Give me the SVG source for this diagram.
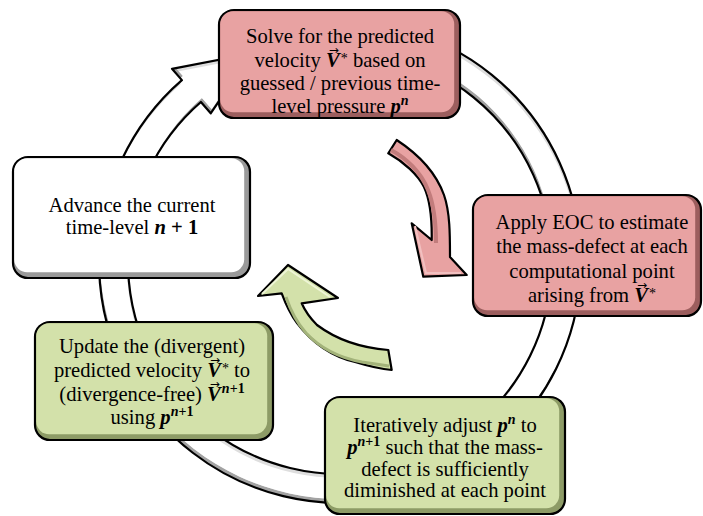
<svg xmlns="http://www.w3.org/2000/svg" xmlns:xlink="http://www.w3.org/1999/xlink" width="703" height="516" viewBox="0 0 703 516">
<style>
.m{font-weight:bold;font-style:italic}
.b{font-weight:bold}
.s{font-size:14px}
.ar{font-size:12px;font-style:normal;font-weight:normal}
.edge{stroke:#000;stroke-width:2.2}
.pinkD{fill:#9c5e5e}.pinkL{fill:#e8a2a2}
.grnD{fill:#8d9b66}.grnL{fill:#d3e1aa}
.whtD{fill:#9a9a9a}.whtL{fill:#ffffff}
</style>
<defs>
<path id="ringp" d="M 402.4 29.2 A 241 241 0 1 1 181.9 80.1 L 172 68.8 L 251.5 53.5 L 210.7 113.3 L 200.9 102 A 212 212 0 1 0 394.9 57.2 Z"/>
<clipPath id="rc"><use xlink:href="#ringp"/></clipPath>
<clipPath id="rc2"><use xlink:href="#ringp" transform="translate(-1,4)"/></clipPath>
</defs>
<rect width="703" height="516" fill="#fff"/>
<g id="connectors">
  <g id="ring">
    <g clip-path="url(#rc)">
      <use xlink:href="#ringp" fill="#a3a3a3"/>
      <use xlink:href="#ringp" transform="translate(1,-4)" fill="#dedede"/>
      <g clip-path="url(#rc2)"><use xlink:href="#ringp" transform="translate(1,-4)" fill="#fff"/></g>
    </g>
    <use xlink:href="#ringp" fill="none" stroke="#000" stroke-width="2.2" stroke-linejoin="round"/>
  </g>
  <g id="pink-arrow">
    <path d="M 388.3 153.3 L 396.7 140 C 415 152, 435 170, 444 195 C 450 212, 450 235, 450 257 L 466.7 275 L 423.3 276.7 L 411.7 223.3 L 431.7 240 C 432 222, 430 200, 424 187 C 418 175, 404 162, 388.3 153.3 Z" fill="#e8a2a2" stroke="#000" stroke-width="2.2" stroke-linejoin="round"/>
    <path d="M 391 150 C 406 158, 421 172, 428 190 C 434 205, 436 225, 436 243" fill="none" stroke="#c27c7c" stroke-width="4"/>
    <path d="M 415 226 L 426 273 L 461 273" fill="none" stroke="#f2c0c0" stroke-width="2"/>
  </g>
  <g id="green-arrow">
    <path d="M 388.3 350 C 363 348, 337 340, 317 325 C 310 318, 305 311, 301.7 303.3 L 338 298 L 288 265 L 258 296 L 281.7 293.3 C 286 305, 291 315, 297 323 C 310 340, 330 356, 355 362 C 368 366, 380 369, 391.7 370 Z" fill="#d3e1aa" stroke="#000" stroke-width="2.2" stroke-linejoin="round"/>
    <path d="M 286 297 C 291 312, 298 324, 306 333 C 320 348, 340 358, 362 362 L 389 366" fill="none" stroke="#a3b37a" stroke-width="3"/>
    <path d="M 262 294 L 288 269 L 330 297" fill="none" stroke="#eef5d6" stroke-width="2"/>
  </g>
</g>
<g id="node-solve">
  <rect x="219" y="10" width="241" height="108" rx="15" class="pinkD edge"/>
  <rect x="220.2" y="11.2" width="234" height="101" rx="13" class="pinkL"/>
  <text font-family="Liberation Serif" font-size="20.6" text-anchor="middle" x="340" y="43">Solve for the predicted</text>
  <text font-family="Liberation Serif" font-size="20.6" text-anchor="middle" x="340" y="66.5">velocity <tspan class="m">V</tspan><tspan class="ar" font-family="DejaVu Sans" dx="-11" dy="-13">→</tspan><tspan class="s" dx="2" dy="9">*</tspan><tspan dy="4"> based on</tspan></text>
  <text font-family="Liberation Serif" font-size="20.6" text-anchor="middle" x="340" y="90">guessed / previous time-</text>
  <text font-family="Liberation Serif" font-size="20.6" text-anchor="middle" x="340" y="113">level pressure <tspan class="m">p</tspan><tspan class="m s" dy="-8">n</tspan></text>
</g>
<g id="node-eoc">
  <rect x="473" y="195" width="228" height="121" rx="15" class="pinkD edge"/>
  <rect x="474.2" y="196.2" width="221" height="114" rx="13" class="pinkL"/>
  <text font-family="Liberation Serif" font-size="20.6" text-anchor="middle" x="592" y="229">Apply EOC to estimate</text>
  <text font-family="Liberation Serif" font-size="20.6" text-anchor="middle" x="592" y="253">the mass-defect at each</text>
  <text font-family="Liberation Serif" font-size="20.6" text-anchor="middle" x="592" y="277.5">computational point</text>
  <text font-family="Liberation Serif" font-size="20.6" text-anchor="middle" x="592" y="302">arising from <tspan class="m">V</tspan><tspan class="ar" font-family="DejaVu Sans" dx="-11" dy="-13">→</tspan><tspan class="s" dx="2" dy="9">*</tspan></text>
</g>
<g id="node-advance">
  <rect x="13" y="157" width="237" height="121" rx="15" class="whtD edge"/>
  <rect x="14.2" y="158.2" width="230" height="114" rx="13" class="whtL"/>
  <text font-family="Liberation Serif" font-size="20.6" text-anchor="middle" x="132" y="212">Advance the current</text>
  <text font-family="Liberation Serif" font-size="20.6" text-anchor="middle" x="132" y="234">time-level <tspan class="m">n</tspan><tspan class="b"> + 1</tspan></text>
</g>
<g id="node-update">
  <rect x="35" y="322" width="238" height="118" rx="15" class="grnD edge"/>
  <rect x="36.2" y="323.2" width="231" height="111" rx="13" class="grnL"/>
  <text font-family="Liberation Serif" font-size="20.6" text-anchor="middle" x="152" y="353">Update the (divergent)</text>
  <text font-family="Liberation Serif" font-size="20.6" text-anchor="middle" x="152" y="377">predicted velocity <tspan class="m">V</tspan><tspan class="ar" font-family="DejaVu Sans" dx="-11" dy="-13">→</tspan><tspan class="s" dx="2" dy="9">*</tspan><tspan dy="4"> to</tspan></text>
  <text font-family="Liberation Serif" font-size="20.6" text-anchor="middle" x="152" y="400.5">(divergence-free) <tspan class="m">V</tspan><tspan class="ar" font-family="DejaVu Sans" dx="-11" dy="-13">→</tspan><tspan class="m s" dx="2" dy="5">n</tspan><tspan class="b s">+1</tspan></text>
  <text font-family="Liberation Serif" font-size="20.6" text-anchor="middle" x="152" y="424">using <tspan class="m">p</tspan><tspan class="m s" dy="-8">n</tspan><tspan class="b s">+1</tspan></text>
</g>
<g id="node-iterate">
  <rect x="325" y="397" width="240" height="117" rx="15" class="grnD edge"/>
  <rect x="326.2" y="398.2" width="233" height="110" rx="13" class="grnL"/>
  <text font-family="Liberation Serif" font-size="20.6" text-anchor="middle" x="445" y="432">Iteratively adjust <tspan class="m">p</tspan><tspan class="m s" dy="-8">n</tspan><tspan dy="8"> to</tspan></text>
  <text font-family="Liberation Serif" font-size="20.6" text-anchor="middle" x="445" y="454"><tspan class="m">p</tspan><tspan class="m s" dy="-8">n</tspan><tspan class="b s">+1</tspan><tspan dy="8"> such that the mass-</tspan></text>
  <text font-family="Liberation Serif" font-size="20.6" text-anchor="middle" x="445" y="476">defect is sufficiently</text>
  <text font-family="Liberation Serif" font-size="20.6" text-anchor="middle" x="445" y="497">diminished at each point</text>
</g>
</svg>
